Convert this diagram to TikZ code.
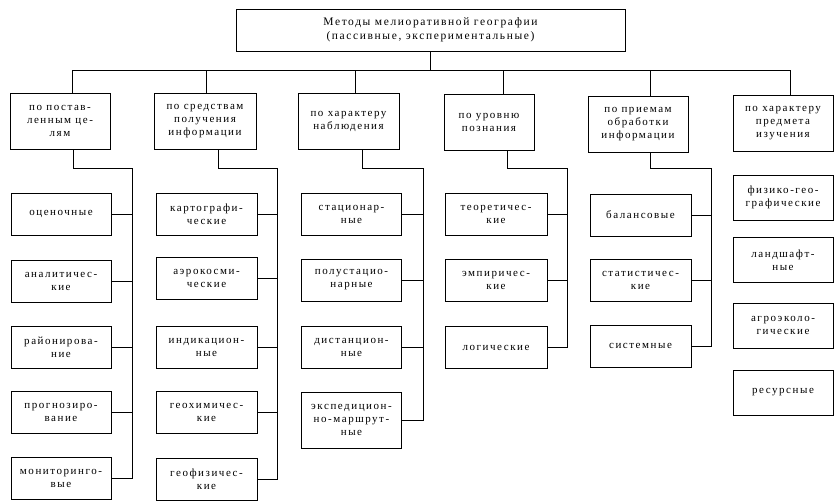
\documentclass[tikz,border=0pt]{standalone}
\usepackage{fontspec}
\setmainfont{Liberation Serif}[LetterSpace=14]
\usepackage{tikz}

\begin{document}
\begin{tikzpicture}[x=1pt, y=-1pt,
  box/.style={draw, line width=0.9pt, align=center, inner sep=1pt,
    minimum width=100pt, minimum height=42pt,
    font=\fontsize{11}{13}\selectfont},
  cat/.style={box, minimum height=56pt}]
\useasboundingbox (0,0) rectangle (835,501);

\node[box, minimum width=389pt, font=\fontsize{11.5}{14}\selectfont] (top) at (430.5,30)
  {Методы мелиоративной географии\\(пассивные, экспериментальные)};

\foreach \i/\x/\y/\w/\txt in {
  1/60/121/100/{по постав-\\ленным це-\\лям},
  2/205/121.5/102/{по средствам\\получения\\информации},
  3/348.5/121.5/101/{по характеру\\наблюдения},
  4/489/122.5/90/{по уровню\\познания},
  5/638/124.5/100/{по приемам\\обработки\\информации},
  6/783/123.5/100/{по характеру\\предмета\\изучения}}
  \node[cat, minimum width=\w pt] (c\i) at (\x,\y) {\txt};

\foreach \j/\y/\txt in {1/214/оценочные, 2/281/{аналитичес-\\кие},
  3/347/{районирова-\\ние}, 4/412.5/{прогнозиро-\\вание},
  5/478/{мониторинго-\\вые}}
  \node[box] (k1-\j) at (61,\y) {\txt};
\foreach \j/\y/\txt in {1/214/{картографи-\\ческие}, 2/278.5/{аэрокосми-\\ческие},
  3/347/{индикацион-\\ные}, 4/412.5/{геохимичес-\\кие},
  5/479/{геофизичес-\\кие}}
  \node[box, minimum width=101pt] (k2-\j) at (206.5,\y) {\txt};
\foreach \j/\y/\txt in {1/214/{стационар-\\ные}, 2/280/{полустацио-\\нарные},
  3/347/{дистанцион-\\ные}}
  \node[box] (k3-\j) at (351.5,\y) {\txt};
\node[box, minimum height=56pt] (k3-4) at (351.5,420)
  {экспедицион-\\но-маршрут-\\ные};
\foreach \j/\y/\txt in {1/214/{теоретичес-\\кие}, 2/280/{эмпиричес-\\кие},
  3/347.5/логические}
  \node[box, minimum width=102pt] (k4-\j) at (496,\y) {\txt};
\foreach \j/\y/\txt in {1/215/балансовые, 2/280/{статистичес-\\кие},
  3/346/системные}
  \node[box, minimum width=101pt] (k5-\j) at (640.5,\y) {\txt};
\foreach \j/\y/\txt in {1/197.5/{физико-гео-\\графические}, 2/260/{ландшафт-\\ные},
  3/325.5/{агроэколо-\\гические}, 4/392.5/ресурсные}
  \node[box, minimum height=45pt] (k6-\j) at (783,\y) {\txt};

% upper bus
\coordinate (busL) at (72,70);
\coordinate (busR) at (790,70);
\draw[line width=0.9pt] (busL) -- (busR);
\draw[line width=0.9pt] (top.south) -- (top.south |- busL);
\foreach \i/\dx in {1/12, 2/1, 3/6.5, 4/14, 5/12, 6/7}
  \draw[line width=0.9pt] ([xshift=\dx pt]c\i.north) |- (busL);

% spines of the columns
\foreach \c/\x/\dx/\n in {1/132/13/5, 2/277/13/5, 3/423/13.5/4, 4/567/18/3, 5/711/12/3} {
  \coordinate (sp\c) at (\x,168);
  \draw[line width=0.9pt] ([xshift=\dx pt]c\c.south) |- (sp\c) |- (k\c-\n.east);
  \foreach \j in {1,...,\n}
    \draw[line width=0.9pt] (k\c-\j.east) -- (k\c-\j.east -| sp\c);
}

\end{tikzpicture}
\end{document}
